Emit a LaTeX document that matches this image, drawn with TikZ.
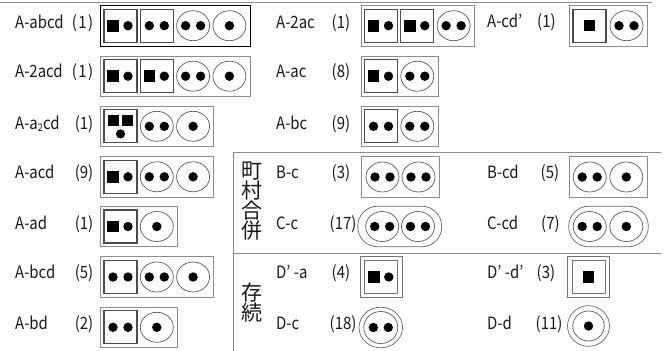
\documentclass[tikz,border=0pt]{standalone}
\usepackage{fontspec}
\setmainfont[FakeStretch=0.88]{Noto Sans CJK JP}
\newfontfamily\cjkfont{Noto Sans CJK JP}
\usetikzlibrary{shapes.geometric}
\newcommand\pA[1]{\fill ([xshift=-7.5pt]#1.center) +(-5.8,-5.8) rectangle +(5.8,5.8); \fill ([xshift=7.5pt]#1.center) circle (4.7pt);}
\newcommand\pB[1]{\fill ([xshift=-7.5pt]#1.center) circle (4.7pt); \fill ([xshift=7.5pt]#1.center) circle (4.7pt);}
\newcommand\pD[1]{\fill (#1.center) circle (4.7pt);}
\newcommand\pS[1]{\fill (#1.center) +(-5.6,-5.6) rectangle +(5.6,5.6);}
\begin{document}
\begin{tikzpicture}[x=1pt,y=-1pt,
  lbl/.style={anchor=base west, inner sep=0, font=\fontsize{17}{17}\selectfont, text=black!90},
  numl/.style={anchor=base east, inner sep=0, font=\fontsize{17}{17}\selectfont, text=black!90},
  numr/.style={anchor=base west, inner sep=0, font=\fontsize{17}{17}\selectfont, text=black!90},
  cjk/.style={inner sep=0, font=\cjkfont\fontsize{21}{21}\selectfont, text=black!90},
  obox/.style={draw=black!45, line width=0.8pt, minimum width=#1, minimum height=40.6, inner sep=0, rectangle},
  sqel/.style={draw=black!70, line width=1.2pt, minimum width=33, minimum height=33, inner sep=0, rectangle},
  cel/.style={draw=black!65, line width=0.7pt, ellipse, minimum width=33, minimum height=30, inner sep=0},
  stad/.style={draw=black!60, line width=0.7pt, rectangle, rounded corners=20pt, minimum width=#1, minimum height=40.6, inner sep=0},
  dbo/.style={draw=black!55, line width=0.8pt, rectangle, minimum width=42, minimum height=40.6, inner sep=0},
  dbi/.style={draw=black!55, line width=0.8pt, rectangle, minimum width=33, minimum height=32.5, inner sep=0},
  dco/.style={draw=black!60, line width=0.7pt, ellipse, minimum width=43.5, minimum height=40.6, inner sep=0},
  rule/.style={draw=black!45, line width=0.8pt}
]
\useasboundingbox (0,0) rectangle (665,351);
% rules
\coordinate (tl) at (0,2); \coordinate (tr) at (652,2);
\draw[rule] (tl) -- (tr);
\coordinate (h1a) at (233.3,152.7); \coordinate (h1b) at (661,152.7);
\coordinate (h2a) at (233.3,253.3); \coordinate (h2b) at (661,253.3);
\coordinate (vb) at (233.3,351);
\draw[rule] (h1b) -- (h1a) -- (vb);
\draw[rule] (h2a) -- (h2b);

% ---------- left column ----------
% row 1
\node[lbl] (t1) at (15,28.3) {A-abcd};
\node[numl] (n1) at (93.5,28.3) {(\kern1.5pt1\kern1.5pt)};
\node[obox=150, draw=black, line width=0.9pt] (b1) at (175,25.7) {};
\node[sqel] (b1a) at (120.5,25.7) {}; \pA{b1a}
\node[sqel] (b1b) at (156.8,25.7) {}; \pB{b1b}
\node[cel] (b1c) at (193.1,25.7) {}; \pB{b1c}
\node[cel] (b1d) at (229.4,25.7) {}; \pD{b1d}
% row 2
\node[lbl] (t2) at (15,77.5) {A-2acd};
\node[numl] (n2) at (93.5,77.5) {(\kern1.5pt1\kern1.5pt)};
\node[obox=150] (b2) at (175,76.2) {};
\node[sqel] (b2a) at (120.5,76.2) {}; \pA{b2a}
\node[sqel] (b2b) at (156.8,76.2) {}; \pA{b2b}
\node[cel] (b2c) at (193.1,76.2) {}; \pB{b2c}
\node[cel] (b2d) at (229.4,76.2) {}; \pD{b2d}
% row 3
\node[lbl] (t3) at (15,129.3) {A-a{\fontsize{10.5}{10.5}\selectfont\raisebox{-2.5pt}{2}}cd};
\node[numl] (n3) at (93.5,129.3) {(1)};
\node[obox=113.6] (b3) at (156.8,126.3) {};
\node[sqel] (b3a) at (120.5,126.3) {};
\fill ([shift={(-7.3,-5.5)}]b3a.center) +(-5.6,-5.6) rectangle +(5.6,5.6);
\fill ([shift={(7.3,-5.5)}]b3a.center) +(-5.6,-5.6) rectangle +(5.6,5.6);
\fill ([shift={(0,7.6)}]b3a.center) circle (4.6pt);
\node[cel] (b3c) at (156.8,126.3) {}; \pB{b3c}
\node[cel] (b3d) at (193.1,126.3) {}; \pD{b3d}
% row 4
\node[lbl] (t4) at (15,178.3) {A-acd};
\node[numl] (n4) at (93.5,178.3) {(9)};
\node[obox=113.6] (b4) at (156.8,176.8) {};
\node[sqel] (b4a) at (120.5,176.8) {}; \pA{b4a}
\node[cel] (b4c) at (156.8,176.8) {}; \pB{b4c}
\node[cel] (b4d) at (193.1,176.8) {}; \pD{b4d}
% row 5
\node[lbl] (t5) at (15,229.3) {A-ad};
\node[numl] (n5) at (93.5,229.3) {(1)};
\node[obox=77.3] (b5) at (138.65,226.5) {};
\node[sqel] (b5a) at (120.5,226.5) {}; \pA{b5a}
\node[cel] (b5d) at (156.8,226.5) {}; \pD{b5d}
% row 6
\node[lbl] (t6) at (15,278.8) {A-bcd};
\node[numl] (n6) at (93.5,278.8) {(5)};
\node[obox=113.6] (b6) at (156.8,277) {};
\node[sqel] (b6a) at (120.5,277) {}; \pB{b6a}
\node[cel] (b6c) at (156.8,277) {}; \pB{b6c}
\node[cel] (b6d) at (193.1,277) {}; \pD{b6d}
% row 7
\node[lbl] (t7) at (15,329.3) {A-bd};
\node[numl] (n7) at (93.5,329.3) {(2)};
\node[obox=77.3] (b7) at (138.65,327.3) {};
\node[sqel] (b7a) at (120.5,327.3) {}; \pB{b7a}
\node[cel] (b7d) at (156.8,327.3) {}; \pD{b7d}

% ---------- middle column ----------
\node[lbl] (m1t) at (276,28.3) {A-2ac};
\node[numr] (m1n) at (331.5,28.3) {(1)};
\node[obox=113] (m1) at (417.5,25.7) {};
\node[sqel] (m1a) at (381,25.7) {}; \pA{m1a}
\node[sqel] (m1b) at (417.3,25.7) {}; \pA{m1b}
\node[cel] (m1c) at (453.6,25.7) {}; \pB{m1c}

\node[lbl] (m2t) at (276,77.5) {A-ac};
\node[numr] (m2n) at (331.5,77.5) {(8)};
\node[obox=77] (m2) at (399.5,76.2) {};
\node[sqel] (m2a) at (381,76.2) {}; \pA{m2a}
\node[cel] (m2c) at (417.3,76.2) {}; \pB{m2c}

\node[lbl] (m3t) at (276,129.3) {A-bc};
\node[numr] (m3n) at (331.5,129.3) {(9)};
\node[obox=77] (m3) at (399.5,126.3) {};
\node[sqel] (m3a) at (381,126.3) {}; \pB{m3a}
\node[cel] (m3c) at (417.3,126.3) {}; \pB{m3c}

\node[lbl] (m4t) at (276,178.3) {B-c};
\node[numr] (m4n) at (331.5,178.3) {(3)};
\node[obox=77.8] (m4) at (400.4,177) {};
\node[cel] (m4a) at (382.5,177) {}; \pB{m4a}
\node[cel] (m4c) at (418.5,177) {}; \pB{m4c}

\node[lbl] (m5t) at (276,229.3) {C-c};
\node[numr] (m5n) at (329.5,229.3) {(17)};
\node[stad=84] (m5) at (399.7,226.5) {};
\node[cel] (m5a) at (382.2,226.5) {}; \pB{m5a}
\node[cel] (m5c) at (418,226.5) {}; \pB{m5c}

\node[lbl] (m6t) at (276,278.3) {D’ -a};
\node[numr] (m6n) at (331.5,278.3) {(4)};
\node[dbo] (m6o) at (381.3,277) {};
\node[dbi] (m6i) at (381.3,277) {}; \pA{m6i}

\node[lbl] (m7t) at (276,329.3) {D-c};
\node[numr] (m7n) at (329.5,329.3) {(18)};
\node[dco] (m7o) at (380.8,327.5) {};
\node[cel, minimum width=34, minimum height=32] (m7i) at (380.8,327.5) {}; \pB{m7i}

% CJK labels
\node[cjk] (k1) at (251.5,171) {町};
\node[cjk] (k2) at (251.5,191) {村};
\node[cjk] (k3) at (251.5,211) {合};
\node[cjk] (k4) at (251.5,231) {併};
\node[cjk] (k5) at (251.5,292.5) {存};
\node[cjk] (k6) at (251.5,312.5) {続};

% ---------- right column ----------
\node[lbl] (r1t) at (487,27.5) {A-cd’};
\node[numr] (r1n) at (537,27.5) {(1)};
\node[obox=78] (r1) at (608.3,25.7) {};
\node[sqel] (r1a) at (589.5,25.7) {}; \pS{r1a}
\node[cel] (r1c) at (626.5,25.7) {}; \pB{r1c}

\node[lbl] (r2t) at (487,178.3) {B-cd};
\node[numr] (r2n) at (540.5,178.3) {(5)};
\node[obox=78] (r2) at (608.3,177) {};
\node[cel] (r2a) at (589.7,177) {}; \pB{r2a}
\node[cel] (r2c) at (626.3,177) {}; \pD{r2c}

\node[lbl] (r3t) at (487,229.3) {C-cd};
\node[numr] (r3n) at (541,229.3) {(7)};
\node[stad=79.6] (r3) at (608.5,226.5) {};
\node[cel] (r3a) at (589.7,226.5) {}; \pB{r3a}
\node[cel] (r3c) at (626.3,226.5) {}; \pD{r3c}

\node[lbl] (r4t) at (487,278.3) {D’ -d’};
\node[numr] (r4n) at (536.5,278.3) {(3)};
\node[dbo] (r4o) at (588.7,277) {};
\node[dbi] (r4i) at (588.7,277) {}; \pS{r4i}

\node[lbl] (r5t) at (487,329.3) {D-d};
\node[numr] (r5n) at (535.5,329.3) {(11)};
\node[dco, minimum width=42] (r5o) at (588.5,326) {};
\node[cel, minimum width=31.5, minimum height=30] (r5i) at (588.5,326) {}; \pD{r5i}
\end{tikzpicture}
\end{document}
